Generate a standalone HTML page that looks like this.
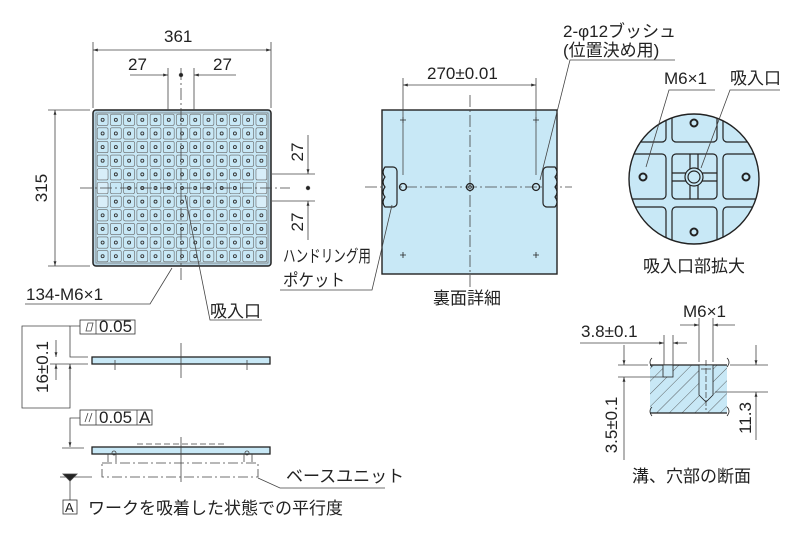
<!DOCTYPE html>
<html><head><meta charset="utf-8"><style>
body{margin:0;background:#fff}
svg{display:block}
text{font-family:"Liberation Sans","Noto Sans CJK JP",sans-serif;fill:#222;font-size:17px}
</style></head><body>
<svg id="s" width="800" height="533" viewBox="0 0 800 533" xmlns="http://www.w3.org/2000/svg">
<defs>
<marker id="a" viewBox="0 0 10 10" refX="10" refY="5" markerWidth="8" markerHeight="6" orient="auto-start-reverse"><path d="M0,2 L10,5 L0,8z" fill="#333"/></marker>
<pattern id="h" width="9" height="9" patternUnits="userSpaceOnUse" patternTransform="rotate(45)"><rect width="9" height="9" fill="#c8e8f6"/><line x1="0" y1="0" x2="0" y2="9" stroke="#444" stroke-width="0.8"/></pattern>
</defs>
<g stroke="#444" stroke-width="0.8" fill="none">
<rect x="93" y="110" width="178" height="156" rx="3" fill="#b7d3e2" stroke="#222" stroke-width="1.5"/>
<rect x="96" y="113" width="172" height="150" fill="#c8e8f6" stroke="#666" stroke-width="0.6"/>
<g id="grid"></g>
<line x1="93" y1="42" x2="93" y2="108"/><line x1="271" y1="42" x2="271" y2="108"/>
<line x1="93" y1="50" x2="271" y2="50" marker-start="url(#a)" marker-end="url(#a)"/>
<line x1="168" y1="68" x2="168" y2="110"/><line x1="194" y1="68" x2="194" y2="110"/>
<line x1="181" y1="68" x2="181" y2="280" stroke-dasharray="12,3,2,3"/>
<circle cx="181" cy="75" r="1.8" fill="#222"/>
<line x1="130" y1="75" x2="168" y2="75" marker-end="url(#a)"/><line x1="236" y1="75" x2="194" y2="75" marker-end="url(#a)"/>
<line x1="48" y1="110" x2="90" y2="110"/><line x1="48" y1="266" x2="90" y2="266"/>
<line x1="55" y1="110" x2="55" y2="266" marker-start="url(#a)" marker-end="url(#a)"/>
<line x1="80" y1="188" x2="290" y2="188" stroke-dasharray="12,3,2,3"/>
<line x1="272" y1="174" x2="315" y2="174"/><line x1="272" y1="201" x2="315" y2="201"/>
<circle cx="308" cy="188" r="1.8" fill="#222"/>
<line x1="308" y1="135" x2="308" y2="174" marker-end="url(#a)"/><line x1="308" y1="240" x2="308" y2="201" marker-end="url(#a)"/>
<polyline points="25,304 150,304 172,268"/>
<polyline points="262,320 210,320 185,195"/>
<rect x="382" y="110" width="175" height="164" fill="#c8e8f6" stroke="#222" stroke-width="1.4"/>
<line x1="470" y1="95" x2="470" y2="290" stroke-dasharray="12,3,2,3"/>
<line x1="365" y1="187" x2="572" y2="187" stroke-dasharray="12,3,2,3"/>
<path d="M385,167 h8 a4,4 0 0 1 4,4 v32 a4,4 0 0 1 -4,4 h-8 q-4,-5 0,-10 q-4,-5 0,-10 q-4,-5 0,-10 q-4,-5 0,-10z" fill="#c8e8f6" stroke="#222" stroke-width="1.2"/>
<path d="M555,167 h-8 a4,4 0 0 0 -4,4 v32 a4,4 0 0 0 4,4 h8 q4,-5 0,-10 q4,-5 0,-10 q4,-5 0,-10 q4,-5 0,-10z" fill="#c8e8f6" stroke="#222" stroke-width="1.2"/>
<circle cx="403" cy="187" r="3.5" stroke="#222" stroke-width="1.3"/><circle cx="536" cy="187" r="3.5" stroke="#222" stroke-width="1.3"/>
<circle cx="470" cy="187" r="3.5" stroke="#222" stroke-width="1.3"/><circle cx="470" cy="187" r="1.5"/>
<path d="M400,120h6M403,117v6M533,120h6M536,117v6M400,255h6M403,252v6M533,255h6M536,252v6" stroke="#222"/>
<line x1="403" y1="78" x2="403" y2="175"/><line x1="536" y1="78" x2="536" y2="175"/>
<line x1="403" y1="85" x2="536" y2="85" marker-start="url(#a)" marker-end="url(#a)"/>
<polyline points="675,60 570,60 540,180"/>
<polyline points="280,290 372,290 392,205"/>
<clipPath id="c"><circle cx="694" cy="179" r="65"/></clipPath>
<circle cx="694" cy="179" r="65" fill="#c8e8f6" stroke="#222" stroke-width="1.4"/>
<g clip-path="url(#c)" stroke="#222" stroke-width="1.2">
<rect x="672" y="154" width="45" height="45" rx="4"/>
<rect x="672" y="100" width="45" height="42" rx="4"/><rect x="672" y="207" width="45" height="45" rx="4"/>
<rect x="610" y="154" width="56" height="45" rx="4"/><rect x="723" y="154" width="56" height="45" rx="4"/>
<rect x="610" y="100" width="56" height="42" rx="4"/><rect x="723" y="100" width="56" height="42" rx="4"/>
<rect x="610" y="207" width="56" height="45" rx="4"/><rect x="723" y="207" width="56" height="45" rx="4"/>
<line x1="690" y1="154" x2="690" y2="199"/><line x1="698" y1="154" x2="698" y2="199"/>
<line x1="672" y1="173" x2="717" y2="173"/><line x1="672" y1="181" x2="717" y2="181"/>
<circle cx="694" cy="177" r="9" fill="#c8e8f6"/><circle cx="694" cy="177" r="6"/>
<circle cx="694" cy="123" r="3.5" stroke-width="2"/><circle cx="694" cy="232" r="3.5" stroke-width="2"/>
<circle cx="643" cy="177" r="3.5" stroke-width="2"/><circle cx="746" cy="177" r="3.5" stroke-width="2"/>
</g>
<polyline points="715,90 669,90 646,167"/>
<polyline points="780,90 730,90 701,168"/>
<rect x="92" y="357" width="178" height="7" fill="#c8e8f6" stroke="#222" stroke-width="1.3"/>
<line x1="181" y1="343" x2="181" y2="378"/><line x1="115" y1="360" x2="115" y2="370"/><line x1="247" y1="360" x2="247" y2="370"/>
<polyline points="80,326 70,326 70,357 88,357"/><line x1="50" y1="364" x2="88" y2="364"/>
<line x1="56" y1="340" x2="56" y2="357" marker-end="url(#a)"/><line x1="56" y1="380" x2="56" y2="364" marker-end="url(#a)"/>
<polyline points="70,364 70,408 22,408 22,326 70,326"/>
<line x1="70" y1="380" x2="70" y2="364" marker-end="url(#a)"/>
<rect x="80" y="320" width="55" height="14" fill="#fff" stroke="#333"/><line x1="96" y1="320" x2="96" y2="334"/>
<path d="M86,331 l2,-8 h5 l-2,8z"/>
<rect x="80" y="410" width="72" height="15" fill="#fff" stroke="#333"/><line x1="96" y1="410" x2="96" y2="425"/><line x1="137" y1="410" x2="137" y2="425"/>
<path d="M85,422 l3,-9 M89,422 l3,-9"/>
<polyline points="80,418 70,418 70,447" marker-end="url(#a)"/><line x1="62" y1="448" x2="84" y2="448"/>
<line x1="137" y1="444" x2="225" y2="444" stroke-dasharray="6,3"/>
<rect x="92" y="447" width="178" height="7" fill="#c8e8f6" stroke="#222" stroke-width="1.3"/>
<line x1="181" y1="437" x2="181" y2="482"/>
<path d="M108,454 v8 M116,454 v8 M244,454 v8 M252,454 v8"/>
<circle cx="114" cy="453" r="2"/><circle cx="247" cy="453" r="2"/>
<rect x="102" y="463" width="156" height="14" stroke-dasharray="10,3,2,3"/>
<polyline points="258,478 280,488 385,488"/>
<line x1="60" y1="477" x2="92" y2="477"/>
<path d="M63,474 h14 l-7,7z" fill="#222"/><line x1="70" y1="481" x2="70" y2="500"/>
<rect x="63" y="500" width="14" height="14" stroke="#333"/>
<rect x="650" y="365" width="77" height="48" fill="url(#h)" stroke="none"/>
<line x1="650" y1="365" x2="727" y2="365" stroke="#222" stroke-width="1.3"/><line x1="650" y1="413" x2="727" y2="413" stroke="#222" stroke-width="1.3"/>
<path d="M652,358 q-4,4 0,9 M652,407 q-4,4 0,9 M727,358 q4,4 0,9 M727,407 q4,4 0,9" stroke="#222"/>
<rect x="663" y="365" width="10" height="12" fill="#c8e8f6" stroke="#222"/>
<path d="M699,365 v30 l7,7 l7,-7 v-30z" fill="#c8e8f6" stroke="#222"/><line x1="701" y1="369" x2="711" y2="369"/><line x1="706" y1="360" x2="706" y2="410" stroke-dasharray="6,2"/>
<line x1="664" y1="335" x2="664" y2="365"/><line x1="673" y1="335" x2="673" y2="365"/>
<line x1="650" y1="343" x2="664" y2="343" marker-end="url(#a)"/><line x1="687" y1="343" x2="673" y2="343" marker-end="url(#a)"/>
<line x1="580" y1="343" x2="650" y2="343"/>
<line x1="699" y1="318" x2="699" y2="362"/><line x1="713" y1="318" x2="713" y2="362"/>
<line x1="680" y1="325" x2="699" y2="325" marker-end="url(#a)"/><line x1="735" y1="325" x2="713" y2="325" marker-end="url(#a)"/>
<line x1="618" y1="365" x2="648" y2="365"/><line x1="618" y1="377" x2="663" y2="377"/>
<line x1="624" y1="345" x2="624" y2="365" marker-end="url(#a)"/><line x1="624" y1="460" x2="624" y2="377" marker-end="url(#a)"/>
<line x1="730" y1="365" x2="768" y2="365"/><line x1="715" y1="392" x2="768" y2="392"/>
<line x1="756" y1="345" x2="756" y2="365" marker-end="url(#a)"/><line x1="756" y1="440" x2="756" y2="392" marker-end="url(#a)"/>
</g>
<text x="164" y="42">361</text>
<text x="128" y="70">27</text><text x="213" y="70">27</text>
<text transform="translate(47,188) rotate(-90)" text-anchor="middle">315</text>
<text transform="translate(303,152) rotate(-90)" text-anchor="middle">27</text>
<text transform="translate(303,222) rotate(-90)" text-anchor="middle">27</text>
<text x="26" y="300">134-M6×1</text>
<text x="210" y="317">吸入口</text>
<text x="427" y="79">270±0.01</text>
<text x="563" y="37">2-φ12ブッシュ</text>
<text x="563" y="56">(位置決め用)</text>
<text x="283" y="262" textLength="88" lengthAdjust="spacingAndGlyphs">ハンドリング用</text>
<text x="283" y="286" textLength="62" lengthAdjust="spacingAndGlyphs">ポケット</text>
<text x="433" y="304">裏面詳細</text>
<text x="664" y="84">M6×1</text><text x="730" y="84">吸入口</text>
<text x="643" y="272">吸入口部拡大</text>
<text x="99" y="332">0.05</text>
<text transform="translate(48,367) rotate(-90)" text-anchor="middle">16±0.1</text>
<text x="99" y="423">0.05</text><text x="139" y="423">A</text>
<text x="286" y="482">ベースユニット</text>
<text x="65" y="512" style="font-size:13px">A</text>
<text x="88" y="514">ワークを吸着した状態での平行度</text>
<text x="581" y="337">3.8±0.1</text>
<text x="683" y="317">M6×1</text>
<text transform="translate(617,425) rotate(-90)" text-anchor="middle">3.5±0.1</text>
<text transform="translate(751,418) rotate(-90)" text-anchor="middle">11.3</text>
<text x="632" y="482">溝、穴部の断面</text>
</svg>
<script>
var g=document.getElementById('grid'),s='';
var px=(268-96)/13,py=(263-113)/11;
for(var r=0;r<11;r++)for(var c=0;c<13;c++){
 var x=96+c*px,y=113+r*py,edge=(c==0||c==12)&&r>=4&&r<=6;
 s+='<rect x="'+(x+1.2)+'" y="'+(y+1.2)+'" width="'+(px-2.4)+'" height="'+(py-2.4)+'" rx="1.5" fill="'+(edge?'#d8eef9':'#c8e8f6')+'" stroke="#666" stroke-width="0.6"/>';
 if(!edge&&!(r==5&&c==1)&&!(r==5&&c==11))s+='<circle cx="'+(x+px/2)+'" cy="'+(y+py/2)+'" r="1.5" fill="none" stroke="#333" stroke-width="0.9"/>';
}
g.innerHTML=s;
</script>
</body></html>
